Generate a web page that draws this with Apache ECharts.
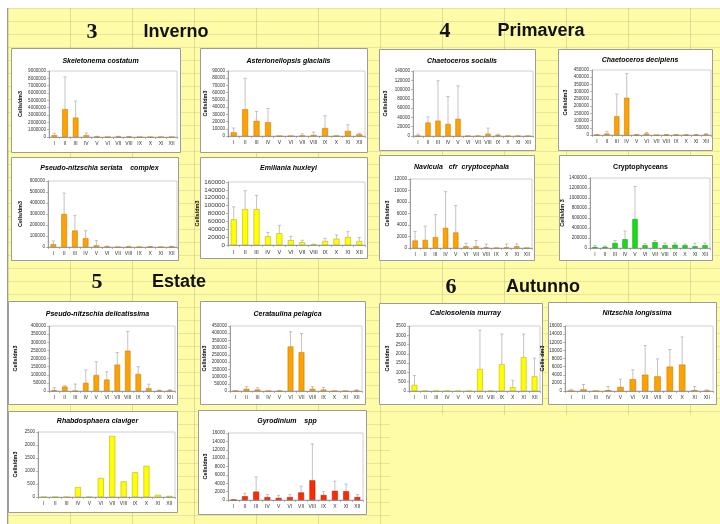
<!DOCTYPE html>
<html>
<head>
<meta charset="utf-8">
<script src="https://cdn.jsdelivr.net/npm/echarts@6/dist/echarts.min.js"></script>
<style>
html,body{margin:0;padding:0;width:720px;height:524px;overflow:hidden;background:#fff;}
#bg{position:absolute;left:7px;top:8px;width:713px;height:516px;background-color:#FFFCA8;
background-image:linear-gradient(to right, rgba(150,150,110,0.3) 1px, transparent 1px),linear-gradient(to bottom, rgba(150,150,110,0.22) 1px, transparent 1px);
background-size:62px 100%,100% 13px;border-left:1px solid #9a9a9a;}
#plain{position:absolute;left:390px;top:415px;width:330px;height:109px;background:#FFFCA8;}
#main{position:absolute;left:0;top:0;width:720px;height:524px;}
</style>
</head>
<body>
<div id="bg"></div>
<div id="plain"></div>
<div id="main"></div>
<script>
const months = ['I','II','III','IV','V','VI','VII','VIII','IX','X','XI','XII'];

// Inverno
const skeletonemaMean = [250000,3800000,2650000,250000,50000,0,30000,30000,0,0,0,0];
const skeletonemaTop  = [500000,8200000,4900000,550000,100000,0,100000,80000,0,0,0,0];
const asterionellopsisMean = [5000,37000,21000,19000,0,0,500,1500,11000,300,7000,2500];
const asterionellopsisTop  = [11000,80000,34000,38000,0,0,3000,5500,28000,0,15500,4000];
const seriataMean = [25000,300000,150000,80000,15000,2000,0,2000,0,2000,0,2000];
const seriataTop  = [55000,490000,285000,148000,58000,8000,0,6000,0,5000,0,6000];
const emilianiaMean = [65000,91000,91000,22000,30000,12000,7000,1000,10000,16000,20000,10000];
const emilianiaTop  = [97000,138000,126000,32000,50000,22000,12000,2000,17000,26000,34000,19000];
// Primavera
const socialisMean = [0,29000,33000,26000,37000,0,0,5000,2000,0,0,0];
const socialisTop  = [4000,41000,119000,85000,108000,0,0,17000,4000,0,0,0];
const decipiensMean = [1000,10000,130000,258000,1000,10000,0,1000,1000,0,1000,4000];
const decipiensTop  = [3000,25000,283000,425000,4000,18000,0,3000,3000,2000,3000,10000];
const naviculaMean = [1300,1400,1900,3500,2700,300,300,100,0,100,300,0];
const naviculaTop  = [2900,3800,5800,9800,7400,800,1300,700,0,700,700,0];
const cryptoMean = [20000,20000,100000,175000,580000,55000,115000,55000,65000,55000,35000,55000];
const cryptoTop  = [50000,40000,150000,340000,1230000,85000,150000,100000,100000,80000,95000,100000];
// Estate
const delicatissimaMean = [5000,27000,0,50000,98000,70000,162000,248000,105000,17000,3000,2000];
const delicatissimaTop  = [20000,32000,43000,130000,180000,118000,237000,366000,150000,42000,5000,8000];
const cerataulinaMean = [0,15000,10000,0,0,308000,268000,15000,10000,0,0,2000];
const cerataulinaTop  = [2000,30000,22000,0,2000,410000,398000,30000,25000,0,0,8000];
const rhabdosphaeraMean = [0,0,0,380,0,730,2350,600,950,1200,80,40];
const gyrodiniumMean = [0,900,2000,700,500,700,1800,4700,1200,2200,2100,700];
const gyrodiniumTop  = [100,1600,5500,1300,1100,1300,3300,13400,2000,4500,3800,1300];
// Autunno
const calciosoleniaMean = [330,0,0,0,0,0,1180,0,1450,200,1820,790];
const calciosoleniaTop  = [830,0,0,0,0,0,3280,0,3070,580,3070,1770];
const longissimaMean = [0,400,0,200,1000,2900,4000,3600,6000,6500,200,0];
const longissimaTop  = [400,1600,0,1100,2900,5200,11200,7900,10200,13300,1100,300];

const ORANGE = ['#FFA200','#B87300'];
const YELLOW = ['#FFFF00','#A8A800'];
const GREEN  = ['#11E011','#0A8A0A'];
const RED    = ['#FF2A00','#A81A00'];

// layout: box [x,y,w,h], plot [l,t,r,b], title y, y-name x
const panels = [
 {t:'Skeletonema costatum', it:true, m:skeletonemaMean, e:skeletonemaTop, c:ORANGE, max:9000000, step:1000000, yn:'Cells/dm3', box:[11,48,169,104], p:[49,71,177,137], ty:58, nx:20, fs:4.6},
 {t:'Asterionellopsis glacialis', it:true, m:asterionellopsisMean, e:asterionellopsisTop, c:ORANGE, max:90000, step:10000, yn:'Cells/dm3', box:[200,48,167,104], p:[228,71,365,136], ty:58, nx:207, fs:4.6},
 {t:'Pseudo-nitzschia seriata    complex', it:true, m:seriataMean, e:seriataTop, c:ORANGE, max:600000, step:100000, yn:'Cells/dm3', box:[11,157,167,103], p:[48,181,177,247], ty:165, nx:20, fs:4.6},
 {t:'Emiliania huxleyi', it:true, m:emilianiaMean, e:emilianiaTop, c:YELLOW, max:160000, step:20000, yn:'Cells/dm3', box:[200,157,167,101], p:[228,182,365,245], ty:165, nx:207, fs:6.2},
 {t:'Chaetoceros socialis', it:true, m:socialisMean, e:socialisTop, c:ORANGE, max:140000, step:20000, yn:'Cells/dm3', box:[379,49,156,101], p:[413,71,533,136], ty:58, nx:385, fs:4.6},
 {t:'Chaetoceros decipiens', it:true, m:decipiensMean, e:decipiensTop, c:ORANGE, max:450000, step:50000, yn:'Cells/dm3', box:[558,49,154,101], p:[592,70,711,135], ty:57, nx:565, fs:4.6},
 {t:'Navicula   cfr  cryptocephala', it:true, m:naviculaMean, e:naviculaTop, c:ORANGE, max:12000, step:2000, yn:'Cells/dm3', box:[379,155,155,105], p:[410,179,532,248], ty:164, nx:387, fs:4.6},
 {t:'Cryptophyceans', it:false, m:cryptoMean, e:cryptoTop, c:GREEN, max:1400000, step:200000, yn:'Cells/dm 3', box:[559,155,153,105], p:[590,178,710,248], ty:164, nx:565, fs:4.6},
 {t:'Pseudo-nitzschia delicatissima', it:true, m:delicatissimaMean, e:delicatissimaTop, c:ORANGE, max:400000, step:50000, yn:'Cells/dm3', box:[8,301,169,103], p:[49,326,175,391], ty:311, nx:15, fs:4.6},
 {t:'Cerataulina pelagica', it:true, m:cerataulinaMean, e:cerataulinaTop, c:ORANGE, max:450000, step:50000, yn:'Cells/dm3', box:[200,301,165,103], p:[230,326,362,391], ty:311, nx:207, fs:4.6},
 {t:'Rhabdosphaera claviger', it:true, m:rhabdosphaeraMean, e:null, c:YELLOW, max:2500, step:500, yn:'Cells/dm3', box:[8,411,169,101], p:[38,432,175,497], ty:418, nx:15, fs:4.6},
 {t:'Gyrodinium    spp', it:true, m:gyrodiniumMean, e:gyrodiniumTop, c:RED, max:16000, step:2000, yn:'Cells/dm3', box:[198,410,168,104], p:[228,433,363,500], ty:418, nx:207, fs:4.6},
 {t:'Calciosolenia murray', it:true, m:calciosoleniaMean, e:calciosoleniaTop, c:YELLOW, max:3500, step:500, yn:'Cells/dm3', box:[379,303,163,101], p:[409,326,540,391], ty:310, nx:387, fs:4.6},
 {t:'Nitzschia longissima', it:true, m:longissimaMean, e:longissimaTop, c:ORANGE, max:16000, step:2000, yn:'Cells dm3', box:[548,302,168,102], p:[565,326,713,391], ty:310, nx:555, fs:4.6}
];

const sections = [
 {num:'3', name:'Inverno', nx:92, x:176, y:32},
 {num:'4', name:'Primavera', nx:445, x:541, y:31},
 {num:'5', name:'Estate', nx:97, x:179, y:282},
 {num:'6', name:'Autunno', nx:451, x:543, y:287}
];

function errRender(params, api){
  const i = api.value(0), m = api.value(1), top = api.value(2);
  if (!(top > m)) return null;
  const p0 = api.coord([i, m]);
  const p1 = api.coord([i, top]);
  const w = 1.6;
  const st = {stroke:'#b4b4b4', lineWidth:0.8};
  return {type:'group', children:[
    {type:'line', shape:{x1:p0[0], y1:p0[1], x2:p1[0], y2:p1[1]}, style:st},
    {type:'line', shape:{x1:p1[0]-w, y1:p1[1], x2:p1[0]+w, y2:p1[1]}, style:st}
  ]};
}

const option = {
  animation:false,
  backgroundColor:'transparent',
  title:[], grid:[], xAxis:[], yAxis:[], series:[], graphic:[]
};

panels.forEach((P, k) => {
  const [bx,by,bw,bh] = P.box;
  const [l,t,r,b] = P.p;
  option.graphic.push({type:'rect', z:-5, shape:{x:bx+0.5,y:by+0.5,width:bw,height:bh}, style:{fill:'#fff', stroke:'#9c9c9c', lineWidth:1}});
  option.title.push({text:P.t, left:bx+bw/2, top:P.ty-5, textAlign:'center',
    textStyle:{fontFamily:'Liberation Sans', fontSize:7, fontWeight:'bold', fontStyle:P.it?'italic':'normal', color:'#000'}});
  option.grid.push({left:l, top:t, width:r-l, height:b-t, show:true, backgroundColor:'#fff', borderColor:'#c4c4c4', borderWidth:0.8});
  option.xAxis.push({type:'category', gridIndex:k, data:months,
    axisLine:{lineStyle:{color:'#8a8a8a', width:0.8}},
    axisTick:{show:true, length:2, lineStyle:{color:'#8a8a8a', width:0.6}},
    axisLabel:{interval:0, fontSize:P.fs===6.2?5.6:5, margin:4, color:'#333', fontFamily:'Liberation Sans'}});
  option.yAxis.push({type:'value', gridIndex:k, min:0, max:P.max, interval:P.step,
    name:P.yn, nameLocation:'middle', nameGap:l-P.nx-3,
    nameTextStyle:{fontSize:5.5, fontWeight:'bold', color:'#000', fontFamily:'Liberation Sans'},
    axisLine:{show:true, lineStyle:{color:'#8a8a8a', width:0.8}},
    axisTick:{show:true, length:2, lineStyle:{color:'#8a8a8a', width:0.6}},
    splitLine:{show:false},
    axisLabel:{fontSize:P.fs, margin:3, color:'#333', fontFamily:'Liberation Sans', formatter:v => String(v)}});
  option.series.push({type:'bar', xAxisIndex:k, yAxisIndex:k, data:P.m, barWidth:'52%',
    itemStyle:{color:P.c[0], borderColor:P.c[1], borderWidth:0.5}});
  if (P.e) {
    option.series.push({type:'custom', xAxisIndex:k, yAxisIndex:k, z:1,
      data:months.map((_, i) => [i, P.m[i], P.e[i]]), renderItem:errRender});
  }
});

sections.forEach(S => {
  option.graphic.push({type:'text', x:S.nx, y:S.y, style:{text:S.num, font:'bold 22px "Liberation Serif"', fill:'#111', align:'center', verticalAlign:'middle'}});
  option.graphic.push({type:'text', x:S.x, y:S.y, style:{text:S.name, font:'bold 18px "Liberation Sans"', fill:'#111', align:'center', verticalAlign:'middle'}});
});

const chart = echarts.init(document.getElementById('main'), null, {renderer:'canvas'});
chart.setOption(option);
</script>
</body>
</html>
